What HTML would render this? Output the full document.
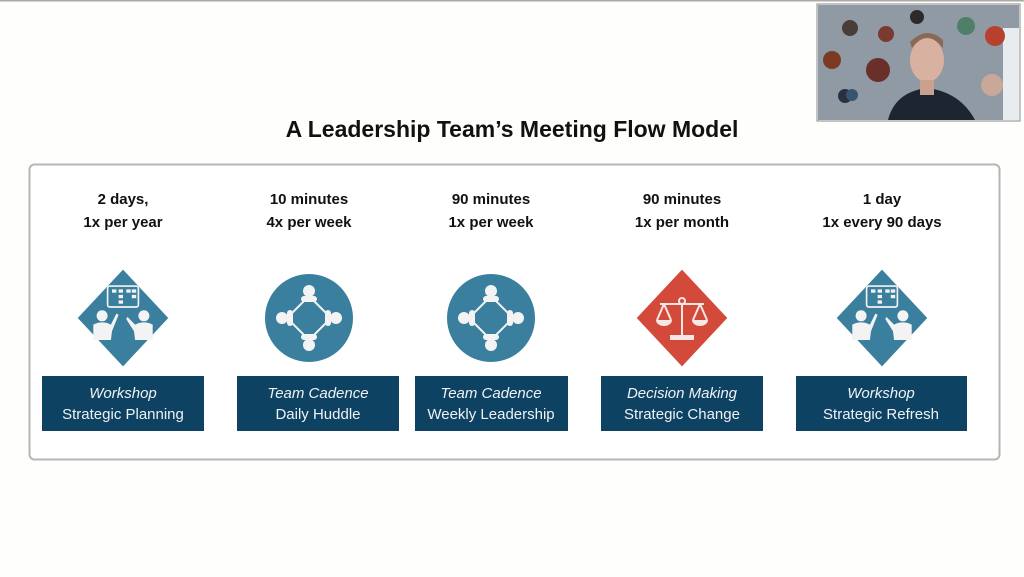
<!DOCTYPE html>
<html><head><meta charset="utf-8"><style>
html,body{margin:0;padding:0;background:#fefefc;}
body{width:1024px;height:577px;overflow:hidden;position:relative;font-family:"Liberation Sans",sans-serif;}
</style></head><body>
<svg width="1024" height="577" viewBox="0 0 1024 577" xmlns="http://www.w3.org/2000/svg" style="position:absolute;left:0;top:0">
<defs>
<g id="workshop">
  <rect x="-32" y="-32" width="64" height="64" transform="scale(1,1.07) rotate(45)" fill="#3b7f9e"/>
  <g transform="scale(1.1)">
  <rect x="-14" y="-29" width="28" height="19" rx="2" fill="none" stroke="#f3f3f3" stroke-width="1.5"/>
  <rect x="-10" y="-26" width="4" height="3" fill="#f3f3f3"/><rect x="-4" y="-26" width="4" height="3" fill="#f3f3f3"/><rect x="3" y="-26" width="4" height="3" fill="#f3f3f3"/><rect x="8" y="-26" width="4" height="3" fill="#f3f3f3"/>
  <rect x="-4" y="-21" width="4" height="3" fill="#f3f3f3"/><rect x="8" y="-21" width="4" height="3" fill="#f3f3f3"/><rect x="-4" y="-16" width="4" height="3" fill="#f3f3f3"/>
  <circle cx="-19" cy="-2" r="5" fill="#f3f3f3"/><path d="M-27 20 L-27 6 Q-19 2 -11 6 L-6 -4 L-4 -3 L-10 12 L-11 20 Z" fill="#f3f3f3"/>
  <circle cx="19" cy="-2" r="5" fill="#f3f3f3"/><path d="M27 20 L27 6 Q19 2 11 6 L4 -1 L3 1 L10 12 L11 20 Z" fill="#f3f3f3"/>
  </g>
</g>
<g id="huddle">
  <circle r="44" fill="#3b7f9e"/>
  <path d="M0 -22 L22 0 L0 22 L-22 0 Z" fill="none" stroke="#f3f3f3" stroke-width="2"/>
  <g fill="#f3f3f3">
   <circle cx="0" cy="-27" r="6"/><rect x="-8" y="-22" width="16" height="6" rx="3"/>
   <circle cx="0" cy="27" r="6"/><rect x="-8" y="16" width="16" height="6" rx="3"/>
   <circle cx="-27" cy="0" r="6"/><rect x="-22" y="-8" width="6" height="16" rx="3"/>
   <circle cx="27" cy="0" r="6"/><rect x="16" y="-8" width="6" height="16" rx="3"/>
  </g>
</g>
</defs>
<line x1="0" y1="0.5" x2="1024" y2="0.5" stroke="#aaa" stroke-width="2"/>
<text x="512" y="137" text-anchor="middle" font-size="23" font-weight="bold" fill="#111">A Leadership Team’s Meeting Flow Model</text>
<rect x="29.5" y="164.5" width="970" height="295" rx="5" fill="#fff" stroke="#b5b5b5" stroke-width="2"/>
<g font-size="15" font-weight="bold" fill="#111" text-anchor="middle">
 <text x="123" y="204">2 days,</text><text x="123" y="227">1x per year</text>
 <text x="309" y="204">10 minutes</text><text x="309" y="227">4x per week</text>
 <text x="491" y="204">90 minutes</text><text x="491" y="227">1x per week</text>
 <text x="682" y="204">90 minutes</text><text x="682" y="227">1x per month</text>
 <text x="882" y="204">1 day</text><text x="882" y="227">1x every 90 days</text>
</g>
<use href="#workshop" x="123" y="318"/>
<use href="#huddle" x="309" y="318"/>
<use href="#huddle" x="491" y="318"/>
<g transform="translate(682,318)">
  <rect x="-32" y="-32" width="64" height="64" transform="scale(1,1.07) rotate(45)" fill="#d44a3a"/>
  <g fill="none" stroke="#f5e8e5" stroke-width="2">
   <line x1="-22" y1="-14" x2="22" y2="-14"/><line x1="0" y1="-14" x2="0" y2="18"/>
   <circle cx="0" cy="-17" r="3"/>
   <path d="M-18 -14 L-25 2 M-18 -14 L-11 2 M18 -14 L11 2 M18 -14 L25 2"/>
  </g>
  <g fill="#f5e8e5"><path d="M-26 2 h16 a8 6 0 0 1 -16 0Z"/><path d="M10 2 h16 a8 6 0 0 1 -16 0Z"/><rect x="-12" y="17" width="24" height="5"/></g>
</g>
<use href="#workshop" x="882" y="318"/>
<g fill="#0e4262">
 <rect x="42" y="376" width="162" height="55"/>
 <rect x="237" y="376" width="162" height="55"/>
 <rect x="415" y="376" width="153" height="55"/>
 <rect x="601" y="376" width="162" height="55"/>
 <rect x="796" y="376" width="171" height="55"/>
</g>
<g font-size="15" fill="#eef2f5" text-anchor="middle">
 <text x="123" y="398" font-style="italic">Workshop</text><text x="123" y="419">Strategic Planning</text>
 <text x="318" y="398" font-style="italic">Team Cadence</text><text x="318" y="419">Daily Huddle</text>
 <text x="491" y="398" font-style="italic">Team Cadence</text><text x="491" y="419">Weekly Leadership</text>
 <text x="682" y="398" font-style="italic">Decision Making</text><text x="682" y="419">Strategic Change</text>
 <text x="881" y="398" font-style="italic">Workshop</text><text x="881" y="419">Strategic Refresh</text>
</g>
<rect x="817" y="4" width="203" height="117" fill="#fff" stroke="#888"/>
<rect x="818" y="5" width="201" height="115" fill="#8f9aa5"/>
<rect x="1003" y="28" width="16" height="92" fill="#e8ecef"/>
<circle cx="850" cy="28" r="8" fill="#4a3c36"/><circle cx="886" cy="34" r="8" fill="#7a3a30"/><circle cx="917" cy="17" r="7" fill="#2e2a2a"/>
<circle cx="966" cy="26" r="9" fill="#4e8068"/><circle cx="995" cy="36" r="10" fill="#b8412d"/><circle cx="832" cy="60" r="9" fill="#7c3a22"/>
<circle cx="878" cy="70" r="12" fill="#6a2f2a"/><circle cx="845" cy="96" r="7" fill="#2a3040"/><circle cx="852" cy="95" r="6" fill="#385570"/>
<circle cx="992" cy="85" r="11" fill="#c9a89a"/>
<ellipse cx="927" cy="60" rx="17" ry="22" fill="#d9b1a0"/>
<path d="M912 48 Q927 28 943 48 L943 40 Q927 25 910 42Z" fill="#8a6a55"/>
<path d="M888 120 Q895 92 927 88 Q960 92 975 120Z" fill="#1d2530"/>
<rect x="920" y="80" width="14" height="15" fill="#caa08f"/>
</svg>
</body></html>
